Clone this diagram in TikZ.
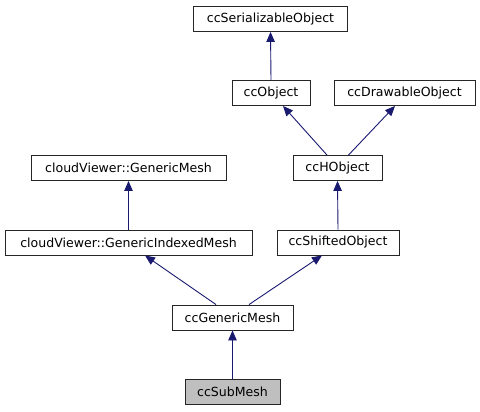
\documentclass[tikz,border=0pt]{standalone}
\usepackage{fontspec}
\setmainfont{DejaVu Sans}
\usetikzlibrary{arrows.meta}
\definecolor{edgeblue}{HTML}{191970}
\definecolor{boxgray}{HTML}{BFBFBF}
\begin{document}
\begin{tikzpicture}[x=1bp,y=-1bp,
  cls/.style={draw=black!85, line width=0.9bp, fill=white, minimum height=25bp, inner sep=0pt,
    font=\fontsize{12.6}{15}\selectfont, text=black},
  arr/.style={draw=edgeblue, line width=0.9bp, -{Triangle[length=10bp,width=8.5bp,fill=edgeblue]}}]
\useasboundingbox (0,0) rectangle (480,411);
\node[cls, minimum width=154bp] (ser) at (270.5,19) {ccSerializableObject};
\node[cls, minimum width=78bp] (obj) at (271,93) {ccObject};
\node[cls, minimum width=141bp] (draw) at (404.5,93) {ccDrawableObject};
\node[cls, minimum width=195bp] (gmesh) at (128.5,168) {cloudViewer::GenericMesh};
\node[cls, minimum width=89bp] (hobj) at (337.5,168) {ccHObject};
\node[cls, minimum width=247bp] (gim) at (128.5,242.5) {cloudViewer::GenericIndexedMesh};
\node[cls, minimum width=122bp] (shift) at (338,242.5) {ccShiftedObject};
\node[cls, minimum width=121bp] (ccgm) at (232.5,317.5) {ccGenericMesh};
\node[cls, minimum width=95bp, fill=boxgray] (sub) at (232.5,391.5) {ccSubMesh};

\draw[arr] (obj.north) -- (ser.south);
\draw[arr] ([xshift=-10.5bp]hobj.north) -- ([xshift=12bp]obj.south);
\draw[arr] ([xshift=11bp]hobj.north) -- ([xshift=-9.5bp]draw.south);
\draw[arr] (gim.north) -- (gmesh.south);
\draw[arr] (shift.north) -- (hobj.south);
\draw[arr] ([xshift=-16.5bp]ccgm.north) -- ([xshift=16.5bp]gim.south);
\draw[arr] ([xshift=16.5bp]ccgm.north) -- ([xshift=-16bp]shift.south);
\draw[arr] (sub.north) -- (ccgm.south);
\end{tikzpicture}
\end{document}
